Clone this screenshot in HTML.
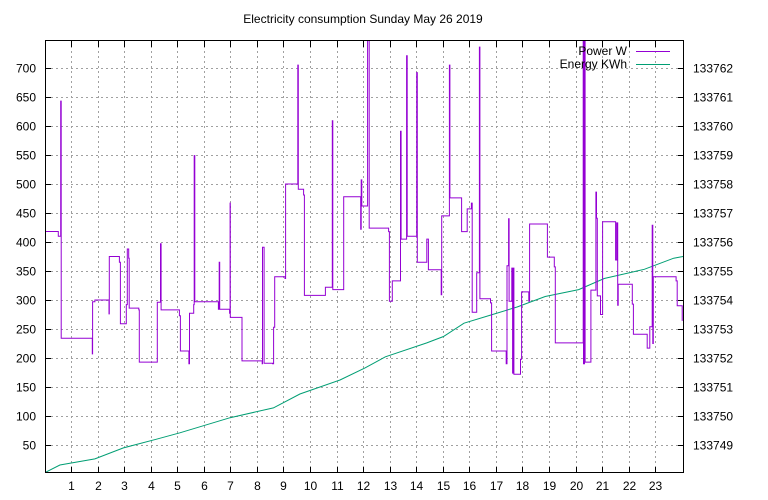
<!DOCTYPE html>
<html><head><meta charset="utf-8"><style>
body{margin:0;background:#fff}
svg{display:block;font-family:"Liberation Sans",sans-serif;font-size:12px}
</style></head><body>
<svg id="chart" width="768" height="500">
<defs><clipPath id="clip"><rect x="45" y="40" width="639" height="433"/></clipPath></defs>
<rect width="768" height="500" fill="#fff"/>
<text x="363" y="23" text-anchor="middle">Electricity consumption Sunday May 26 2019</text>
<g id="grid"></g>
<g id="ticks"></g>
<g clip-path="url(#clip)">
<path id="energy" fill="none" stroke="#009e73" stroke-width="1"/>
<path id="power" fill="none" stroke="#9400d3" stroke-width="1"/>
</g>
<rect x="45.5" y="40.5" width="638" height="432" fill="none" stroke="#000"/>
<g>
<text x="627" y="55" text-anchor="end">Power W</text>
<line x1="636" y1="51.5" x2="670" y2="51.5" stroke="#9400d3"/>
<text x="627" y="68" text-anchor="end">Energy KWh</text>
<line x1="636" y1="64.5" x2="670" y2="64.5" stroke="#009e73"/>
</g>
</svg>
<script>
const hourTicks=[1,2,3,4,5,6,7,8,9,10,11,12,13,14,15,16,17,18,19,20,21,22,23];
const powerTicks=[50,100,150,200,250,300,350,400,450,500,550,600,650,700];
const energyTicks=[133749,133750,133751,133752,133753,133754,133755,133756,133757,133758,133759,133760,133761,133762];
const powerHours=[0,0.52,0.61,0.63,1.80,1.81,1.90,2.43,2.44,2.82,2.86,3.08,3.12,3.17,3.19,3.55,3.57,4.25,4.37,4.39,5.08,5.12,5.44,5.46,5.62,5.64,5.66,6.55,6.58,6.60,6.97,6.99,7.0,7.44,8.20,8.21,8.27,8.59,8.63,8.67,9.06,9.08,9.54,9.56,9.76,9.79,10.58,10.84,10.86,11.25,11.27,11.91,11.93,11.95,12.17,12.23,12.96,12.99,13.10,13.41,13.43,13.47,13.64,13.66,14.02,14.04,14.40,14.46,14.94,14.96,15.25,15.27,15.71,15.92,16.08,16.10,16.11,16.28,16.38,16.40,16.80,16.84,17.39,17.42,17.48,17.50,17.60,17.63,17.65,17.68,17.93,17.97,18.24,18.27,18.94,19.20,19.24,20.29,20.30,20.34,20.36,20.58,20.76,20.77,20.79,20.82,20.94,21.02,21.51,21.55,21.59,21.61,22.14,22.18,22.70,22.80,22.89,22.91,22.93,23.79,23.83,24.02];
const powerValues=[418,410,643,234,207,297,300,276,375,365,259,292,388,372,286,283,193,296,397,283,273,212,190,277,292,549,297,284,365,284,277,467,270,195,190,391,191,190,253,340,337,500,705,491,481,308,322,609,318,318,478,422,507,462,748,424,418,298,333,591,405,405,721,410,692,365,405,352,309,445,705,476,418,457,467,467,279,347,736,302,295,212,190,359,440,298,355,174,355,172,198,314,298,431,374,357,226,748,190,748,193,317,317,486,441,307,275,435,369,433,291,327,293,241,217,254,429,225,340,333,290,264];
const energyHours=[0,0.58,1.9,2.97,4.22,5.1,6.99,8.62,9.62,11.13,12.07,12.84,14.4,15.03,15.8,16.8,17.8,18.86,20.12,21.08,22.59,23.7,24.05];
const energyValues=[133748.04,133748.31,133748.52,133748.9,133749.2,133749.42,133749.94,133750.28,133750.76,133751.24,133751.66,133752.04,133752.52,133752.74,133753.2,133753.48,133753.76,133754.12,133754.36,133754.74,133755.06,133755.44,133755.5];

const xs=h=>44.5+h*26.55;
const yp=v=>474-v*0.58;
const ye=e=>yp(50+(e-133749)*50);
const NS='http://www.w3.org/2000/svg';
function mk(tag,attrs,parent){const el=document.createElementNS(NS,tag);for(const k in attrs)el.setAttribute(k,attrs[k]);parent.appendChild(el);return el;}
const grid=document.getElementById('grid'),ticks=document.getElementById('ticks');
hourTicks.forEach(h=>{
  const x=Math.round(xs(h))+0.5;
  const g=mk('line',{x1:x,y1:41,x2:x,y2:473,stroke:'#a0a0a0','stroke-dasharray':'2,3'},grid);
  
  
  const t=mk('path',{d:`M${x},473v-6M${x},41v6`,stroke:'#000'},ticks);
  
  
  const l=mk('text',{x:x,y:490,'text-anchor':'middle'},ticks);l.textContent=h;
  
  
});
powerTicks.forEach(v=>{
  const y=Math.round(yp(v))+0.5;
  const g=mk('line',{x1:46,y1:y,x2:684,y2:y,stroke:'#a0a0a0','stroke-dasharray':'2,3'},grid);
  
  
  const t=mk('path',{d:`M45,${y}h6`,stroke:'#000'},ticks);
  
  
  const l=mk('text',{x:36,y:y+4,'text-anchor':'end'},ticks);l.textContent=v;
  
  
});
energyTicks.forEach(e=>{
  const y=Math.round(ye(e))+0.5;
  const t=mk('path',{d:`M684,${y}h-6`,stroke:'#000'},ticks);
  
  
  const l=mk('text',{x:693,y:y+4,'text-anchor':'start'},ticks);l.textContent=e;
  
  
});
let d=`M${xs(powerHours[0])},${yp(powerValues[0])}`;
for(let i=1;i<powerHours.length;i++){d+=`H${xs(powerHours[i]).toFixed(1)}V${yp(powerValues[i]).toFixed(1)}`;}
document.getElementById('power').setAttribute('d',d);
let d2='';
energyHours.forEach((h,i)=>{d2+=(i?'L':'M')+xs(h).toFixed(1)+','+ye(energyValues[i]).toFixed(1);});
document.getElementById('energy').setAttribute('d',d2);
</script>
</body></html>
